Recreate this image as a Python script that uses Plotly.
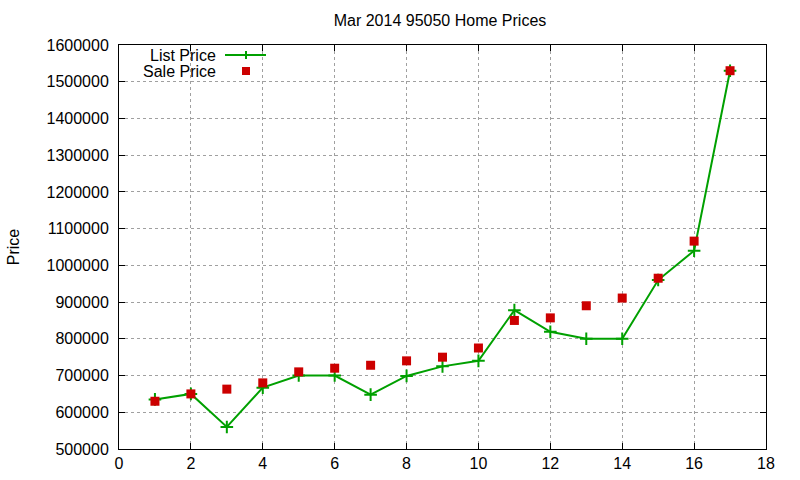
import plotly.graph_objects as go

x_vals = list(range(1, 18))
list_price = [635000, 650000, 560000, 667000, 700000, 700000, 648000, 699000, 725000,
              740000, 878000, 819000, 800000, 800000, 960000, 1040000, 1530000]
sale_price = [630000, 650000, 663000, 680000, 710000, 720000, 728000, 740000, 750000,
              775000, 850000, 857000, 890000, 911000, 965000, 1066000, 1530000]
y_ticks = list(range(500000, 1600001, 100000))
x_ticks = list(range(0, 19, 2))

GREEN = "#00a000"
RED = "#cc0000"
FONT = "Liberation Sans, Arial, sans-serif"

fig = go.Figure()
fig.add_trace(go.Scatter(
    x=x_vals, y=list_price, mode="lines+markers", name="List Price",
    line=dict(color=GREEN, width=2),
    marker=dict(symbol="cross-thin", size=9, line=dict(color=GREEN, width=2), color=GREEN),
    showlegend=False))
fig.add_trace(go.Scatter(
    x=x_vals, y=sale_price, mode="markers", name="Sale Price",
    marker=dict(symbol="square", size=9, color=RED),
    showlegend=False))

axis_common = dict(
    showline=True, linecolor="black", linewidth=1, mirror="ticks",
    ticks="inside", ticklen=6, tickcolor="black",
    showgrid=True, gridcolor="#a0a0a0", griddash="dot", gridwidth=1,
    zeroline=False, automargin=False,
    tickfont=dict(family=FONT, size=16, color="black"),
)
fig.update_xaxes(range=[0, 18], tickvals=x_ticks, **axis_common)
fig.update_yaxes(range=[500000, 1600000], tickvals=y_ticks, ticktext=[str(v) for v in y_ticks],
                 title=dict(text="Price", font=dict(family=FONT, size=16, color="black"), standoff=22),
                 ticklabelstandoff=6, **axis_common)

# legend drawn manually (gnuplot style: text right-aligned, sample to the right)
def px_x(p):
    return (p - 119) / (766 - 119)

def px_y(p):
    return 1 - (p - 45) / (449 - 45)

fig.add_annotation(x=px_x(218), y=px_y(55), xref="paper", yref="paper", text="List Price",
                   showarrow=False, xanchor="right", yanchor="middle",
                   font=dict(family=FONT, size=16, color="black"))
fig.add_annotation(x=px_x(218), y=px_y(71), xref="paper", yref="paper", text="Sale Price",
                   showarrow=False, xanchor="right", yanchor="middle",
                   font=dict(family=FONT, size=16, color="black"))
fig.add_shape(type="line", xref="paper", yref="paper", x0=px_x(225), x1=px_x(266),
              y0=px_y(55), y1=px_y(55), line=dict(color=GREEN, width=2))
fig.add_shape(type="line", xref="paper", yref="paper", x0=px_x(246), x1=px_x(246),
              y0=px_y(51), y1=px_y(59), line=dict(color=GREEN, width=2))
fig.add_shape(type="rect", xref="paper", yref="paper", x0=px_x(242), x1=px_x(250),
              y0=px_y(67), y1=px_y(75), line=dict(width=0), fillcolor=RED)

fig.update_layout(
    width=800, height=480,
    margin=dict(l=119, r=34, t=45, b=31),
    paper_bgcolor="white", plot_bgcolor="white",
    title=dict(text="Mar 2014 95050 Home Prices", x=440 / 800, y=1 - 20 / 480,
               xanchor="center", yanchor="middle",
               font=dict(family=FONT, size=16, color="black")),
)

fig.write_html("out.html")
